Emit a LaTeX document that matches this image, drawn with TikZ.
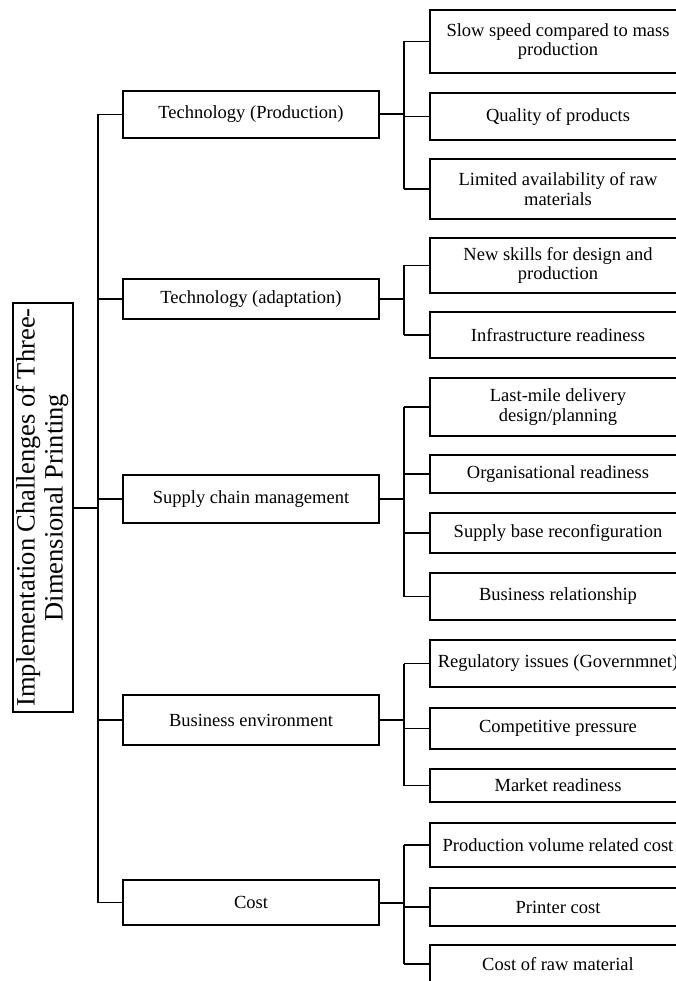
\documentclass[tikz,border=0pt]{standalone}
\usepackage{fontspec}
\setmainfont{Liberation Serif}
\usepackage{graphicx}
\begin{document}
\begin{tikzpicture}[x=1pt,y=-1pt,
  box/.style={draw=black,line width=1.3pt,fill=white,inner sep=0pt,align=center,
    font=\fontsize{18.5}{19.5}\selectfont},
  mid/.style={box,minimum width=256pt},
  leaf/.style={box,minimum width=256pt},
  conn/.style={draw=black,line width=1.3pt},
  stub/.style={draw=black,line width=2pt}]
\useasboundingbox (0,0) rectangle (675,981);

% root
\node[draw=black,line width=1.3pt,inner sep=0pt,minimum width=60pt,minimum height=409pt]
  (root) at (43,507.5)
  {\rotatebox{90}{\fontsize{26.5}{28}\selectfont\begin{tabular}{@{}c@{}}Implementation Challenges of Three-\\Dimensional Printing\end{tabular}}};

% categories
\node[mid,minimum height=47pt] (m1) at (251,114.5) {Technology (Production)};
\node[mid,minimum height=40pt] (m2) at (251,299) {Technology (adaptation)};
\node[mid,minimum height=48pt] (m3) at (251,499) {Supply chain management};
\node[mid,minimum height=50pt] (m4) at (251,720) {Business environment};
\node[mid,minimum height=45pt] (m5) at (251,902.5) {Cost};

% challenges
\node[leaf,minimum height=63pt] (r1) at (558,41.5) {Slow speed compared to mass\\production};
\node[leaf,minimum height=47pt] (r2) at (558,116.5) {Quality of products};
\node[leaf,minimum height=60pt] (r3) at (558,189) {Limited availability of raw\\materials};
\node[leaf,minimum height=55pt] (r4) at (558,265.5) {New skills for design and\\production};
\node[leaf,minimum height=46pt] (r5) at (558,335) {Infrastructure readiness};
\node[leaf,minimum height=58pt] (r6) at (558,407) {Last-mile delivery\\design/planning};
\node[leaf,minimum height=38pt] (r7) at (558,474) {Organisational readiness};
\node[leaf,minimum height=40pt] (r8) at (558,533) {Supply base reconfiguration};
\node[leaf,minimum height=47pt] (r9) at (558,596.5) {Business relationship};
\node[leaf,minimum height=47pt] (r10) at (558,663.5) {Regulatory issues (Governmnet)};
\node[leaf,minimum height=41pt] (r11) at (558,728.5) {Competitive pressure};
\node[leaf,minimum height=33pt] (r12) at (558,785.5) {Market readiness};
\node[leaf,minimum height=44pt] (r13) at (558,845) {Production volume related cost};
\node[leaf,minimum height=38pt] (r14) at (558,907) {Printer cost};
\node[leaf,minimum height=38pt] (r15) at (558,964) {Cost of raw material};

% trunk and branch columns
\coordinate (t) at (98,0);
\coordinate (b) at (404,0);

\draw[stub] (root.east) -- (root.east -| t);
\draw[conn] (m1.west -| t) -- (m5.west -| t);
\foreach \m in {m1,m2,m3,m4,m5}
  \draw[conn] (\m.west -| t) -- (\m.west);

% category -> challenges
\foreach \m/\first/\last/\kids in {
    m1/r1/r3/{r1,r2,r3},
    m2/r4/r5/{r4,r5},
    m3/r6/r9/{r6,r7,r8,r9},
    m4/r10/r12/{r10,r11,r12},
    m5/r13/r15/{r13,r14,r15}}{
  \draw[stub] (\m.east) -- (\m.east -| b);
  \draw[conn] (\first.west -| b) -- (\last.west -| b);
  \foreach \k in \kids
    \draw[conn] (\k.west -| b) -- (\k.west);
}
\end{tikzpicture}
\end{document}
